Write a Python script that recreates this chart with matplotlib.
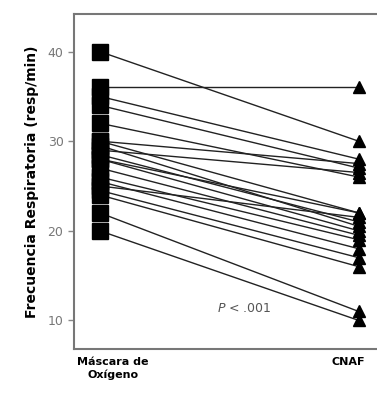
import matplotlib
matplotlib.use("Agg")
import matplotlib.pyplot as plt

groups = ["Máscara de\nOxígeno", "CNAF"]
mascara = [40, 36, 35, 34, 32, 30, 30, 29, 28.5, 28, 28, 26, 25.5, 25, 24.5, 24, 22, 20, 29.5, 27]
cnaf    = [30, 36, 28, 27, 26, 27.5, 22, 26.5, 21, 22, 20, 19, 18, 21.5, 17, 16, 11, 10, 20.5, 19.5]
yticks = [10, 20, 30, 40]

fig = plt.figure(figsize=(3.77, 3.98), dpi=100)
ax = fig.add_axes([0.196, 0.123, 0.81, 0.842])

for a, b in zip(mascara, cnaf):
    ax.plot([0, 1], [a, b], color="#222222", lw=1.0, zorder=1)
ax.plot([0]*len(mascara), mascara, ls="none", marker="s", ms=11, color="black", zorder=3)
ax.plot([1]*len(cnaf), cnaf, ls="none", marker="^", ms=9, color="black", zorder=3)

ax.set_xlim(-0.1, 1.08)
ax.set_ylim(6.8, 44.2)
ax.set_yticks(yticks)
ax.set_xticks([0.05, 0.96])
ax.set_xticklabels(groups, fontsize=8, fontweight="bold")
ax.tick_params(axis="x", length=0, pad=6)
ax.tick_params(axis="y", length=4, width=1, color="#888888", labelcolor="#777777", labelsize=9)
for s in ax.spines.values():
    s.set_color("#777777")
    s.set_linewidth(1.5)
ax.spines["right"].set_visible(False)
ax.set_ylabel("Frecuencia Respiratoria (resp/min)", fontsize=10, fontweight="bold", labelpad=6)
ax.text(0.56, 11.3, "$P$ < .001", fontsize=9, color="#555555", ha="center", va="center")

fig.savefig("out.png", dpi=100)
